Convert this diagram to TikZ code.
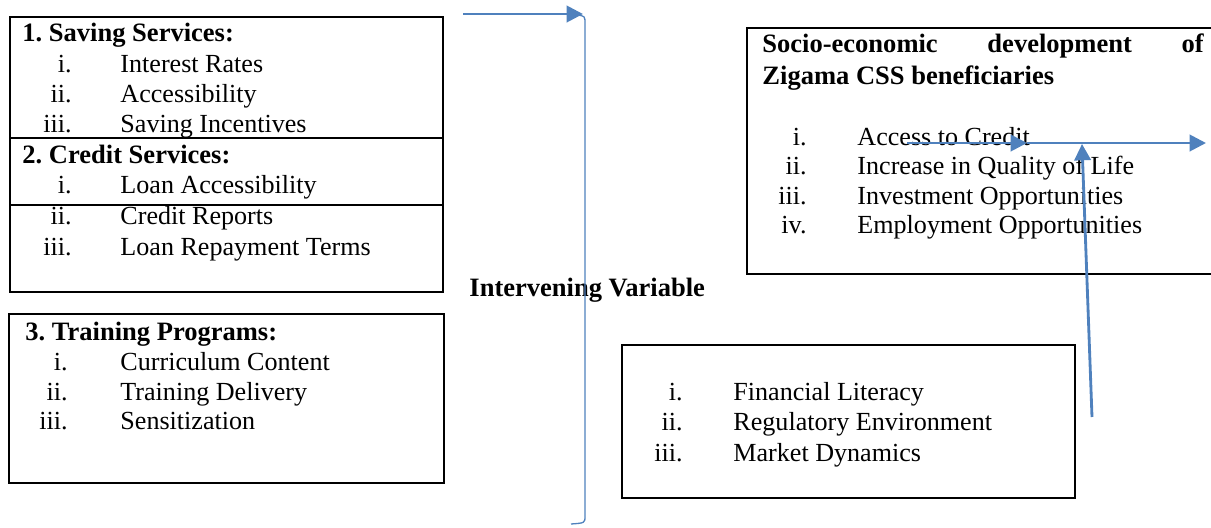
\documentclass[tikz,border=0pt]{standalone}
\usepackage{fontspec}
\setmainfont{Liberation Serif}
\usepackage{xcolor}
\usetikzlibrary{arrows.meta, positioning}
\definecolor{wordblue}{RGB}{79,129,189}

\begin{document}
\begin{tikzpicture}[
        x=0.46pt, y=-0.46pt,
        font=\fontsize{12pt}{14pt}\selectfont,
        >={Triangle[length=7.5pt, width=7.5pt]},
        box/.style={draw, line width=0.9pt},
        head/.style={anchor=base west, inner sep=0pt, font=\fontsize{12.2pt}{14pt}\selectfont\bfseries},
        num/.style={anchor=base east, inner sep=0pt},
        item/.style={anchor=base west, inner sep=0pt},
        flow/.style={->, wordblue, line width=1.3pt},
      ]
      \useasboundingbox (0,0) rectangle (1211,527);

      % independent variables
      \draw[box] (10,17) rectangle (443,292);
      \draw[box] (10,138) -- (443,138);
      \draw[box] (10,205) -- (443,205);
      \node[head] (sav) at (22,41) {1.\ Saving Services:};
      \node[num] (s1n) at (72,72) {i.};      \node[item] (s1) at (120,72) {Interest Rates};
      \node[num] (s2n) at (72,102) {ii.};    \node[item] (s2) at (120,102) {Accessibility};
      \node[num] (s3n) at (72,132) {iii.};   \node[item] (s3) at (120,132) {Saving Incentives};
      \node[head] (cre) at (22,163) {2.\ Credit Services:};
      \node[num] (c1n) at (72,193) {i.};     \node[item] (c1) at (120,193) {Loan Accessibility};
      \node[num] (c2n) at (72,224) {ii.};    \node[item] (c2) at (120,224) {Credit Reports};
      \node[num] (c3n) at (72,255) {iii.};   \node[item] (c3) at (120,255) {Loan Repayment Terms};

      \draw[box] (9,314) rectangle (444,483);
      \node[head] (tra) at (25,340) {3.\ Training Programs:};
      \node[num] (t1n) at (68,370) {i.};     \node[item] (t1) at (120,370) {Curriculum Content};
      \node[num] (t2n) at (68,400) {ii.};    \node[item] (t2) at (120,400) {Training Delivery};
      \node[num] (t3n) at (68,429) {iii.};   \node[item] (t3) at (120,429) {Sensitization};

      % dependent variable (box runs past the right edge)
      \draw[box] (1215,28) -| (747,274) -- (1215,274);
      \node[head] (dev) at (762,52) {\hbox to 203pt{Socio-economic\hfill development\hfill of}};
      \node[head] (zig) at (762,84) {Zigama CSS beneficiaries};
      \node[num] (d1n) at (807,145) {i.};    \node[item] (d1) at (857,145) {Access to Credit};
      \node[num] (d2n) at (807,174) {ii.};   \node[item] (d2) at (857,174) {Increase in Quality of Life};
      \node[num] (d3n) at (807,204) {iii.};  \node[item] (d3) at (857,204) {Investment Opportunities};
      \node[num] (d4n) at (807,233) {iv.};   \node[item] (d4) at (857,233) {Employment Opportunities};

      % intervening variable
      \node[head] (int) at (469,296) {Intervening Variable};
      \draw[box] (622,345) rectangle (1075,498);
      \node[num] (i1n) at (683,400) {i.};    \node[item] (i1) at (733,400) {Financial Literacy};
      \node[num] (i2n) at (683,430) {ii.};   \node[item] (i2) at (733,430) {Regulatory Environment};
      \node[num] (i3n) at (683,461) {iii.};  \node[item] (i3) at (733,461) {Market Dynamics};

      % arrows and brace
      \coordinate (top0) at (463,14);
      \coordinate (top1) at (583,14);
      \coordinate (h0) at (907,143);
      \coordinate (h1) at (1027,143);
      \coordinate (h2) at (1206,143);
      \coordinate (v0) at (1092,417);
      \coordinate (v1) at (1082,144);

      \draw[flow] (top0) -- (top1);
      \draw[wordblue, line width=0.6pt] (577,15) .. controls (585,16) .. (585,24)
        -- (585,516) .. controls (585,523) .. (571,524);
      \draw[flow] (h0) -- (h1);
      \draw[flow] (h1) -- (h2);
      \draw[flow] (v0) -- (v1);
    \end{tikzpicture}
\end{document}
